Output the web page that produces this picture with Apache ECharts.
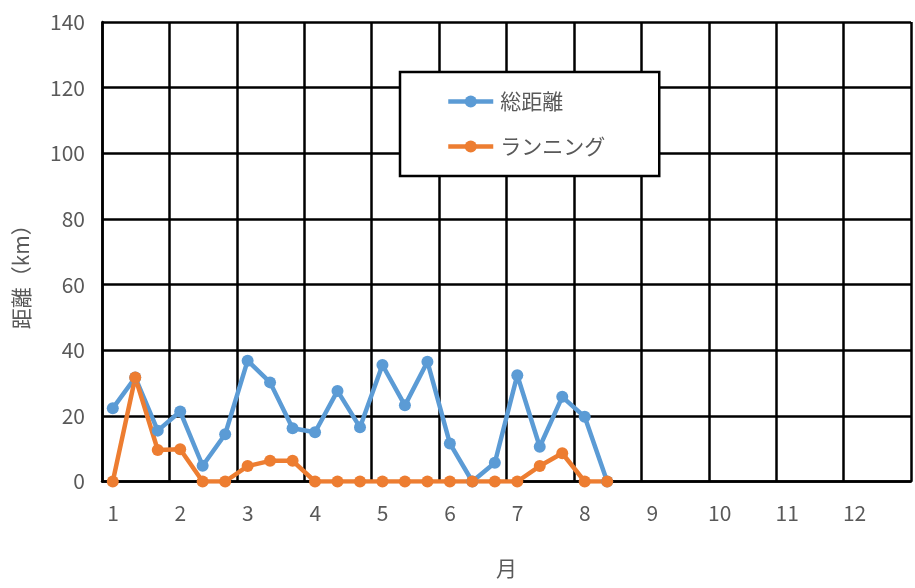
<!DOCTYPE html>
<html>
<head>
<meta charset="utf-8">
<script src="https://cdn.jsdelivr.net/npm/echarts@6/dist/echarts.min.js"></script>
<style>
  html, body { margin: 0; padding: 0; background: #fff; }
  #main { width: 915px; height: 588px; }
</style>
</head>
<body>
<div id="main"></div>
<script>
// 週ごとの記録 (x = 月, 1/3 刻み)
var weeks = [1, 1.333, 1.667, 2, 2.333, 2.667, 3, 3.333, 3.667, 4, 4.333, 4.667,
             5, 5.333, 5.667, 6, 6.333, 6.667, 7, 7.333, 7.667, 8, 8.333];
var totalDist = [22.3, 31.7, 15.5, 21.3, 4.8, 14.4, 36.8, 30.2, 16.2, 15.0, 27.6, 16.5,
                 35.5, 23.2, 36.5, 11.6, 0, 5.7, 32.4, 10.6, 25.8, 19.7, 0];
var running = [0, 31.7, 9.6, 9.8, 0, 0, 4.7, 6.3, 6.3, 0, 0, 0,
               0, 0, 0, 0, 0, 0, 0, 4.7, 8.6, 0, 0];
var seriesNames = ['総距離', 'ランニング'];
var monthLabels = ['1', '2', '3', '4', '5', '6', '7', '8', '9', '10', '11', '12'];

function pairs(xs, ys) {
    var out = [];
    for (var i = 0; i < xs.length; i++) {
        out.push([xs[i], ys[i]]);
    }
    return out;
}

var FONT = '"Noto Sans CJK JP", "Noto Sans", sans-serif';
var TXT = '#595959';

var myChart = echarts.init(document.getElementById('main'));

var option = {
    animation: false,
    grid: { left: 102, right: 4, top: 22, bottom: 106.5 },
    legend: {
        orient: 'vertical',
        left: 400,
        top: 72,
        data: seriesNames,
        backgroundColor: '#fff',
        borderColor: '#000',
        borderWidth: 2.5,
        borderRadius: 0,
        padding: [19, 54, 19, 46],
        itemGap: 24,
        itemWidth: 45,
        itemHeight: 15,
        lineStyle: { width: 4.5 },
        textStyle: { fontFamily: FONT, fontSize: 21, color: TXT, padding: [0, 0, 0, 2] }
    },
    xAxis: {
        type: 'value',
        min: 0.84,
        max: 12.84,
        interval: 1,
        name: '月',
        nameLocation: 'middle',
        nameGap: 76,
        nameTextStyle: { fontFamily: FONT, fontSize: 21, color: TXT },
        axisLine: { show: true, lineStyle: { color: '#000', width: 2.5 } },
        axisTick: { show: false },
        axisLabel: {
            fontFamily: FONT,
            fontSize: 21,
            color: TXT,
            margin: 21,
            padding: [0, 0, 0, 22],
            showMaxLabel: false,
            formatter: function (v) {
                var i = Math.round(v - 0.84);
                return i < monthLabels.length ? monthLabels[i] : '';
            }
        },
        splitLine: { show: true, lineStyle: { color: '#000', width: 2.5 } }
    },
    yAxis: {
        type: 'value',
        min: 0,
        max: 140,
        interval: 20,
        name: '距離（km）',
        nameLocation: 'middle',
        nameRotate: 90,
        nameGap: 70,
        nameTextStyle: { fontFamily: FONT, fontSize: 21, color: TXT, padding: [0, 40, 0, 0] },
        axisLine: { show: true, lineStyle: { color: '#000', width: 2.5 } },
        axisTick: { show: false },
        axisLabel: { fontFamily: FONT, fontSize: 21, color: TXT, margin: 17 },
        splitLine: { show: true, lineStyle: { color: '#000', width: 2.5 } }
    },
    series: [{
        name: seriesNames[0],
        type: 'line',
        data: pairs(weeks, totalDist),
        symbol: 'circle',
        symbolSize: 12,
        lineStyle: { width: 4.5 },
        itemStyle: { color: '#5B9BD5' }
    }, {
        name: seriesNames[1],
        type: 'line',
        data: pairs(weeks, running),
        symbol: 'circle',
        symbolSize: 12,
        lineStyle: { width: 4.5 },
        itemStyle: { color: '#ED7D31' }
    }]
};

myChart.setOption(option);
</script>
</body>
</html>
